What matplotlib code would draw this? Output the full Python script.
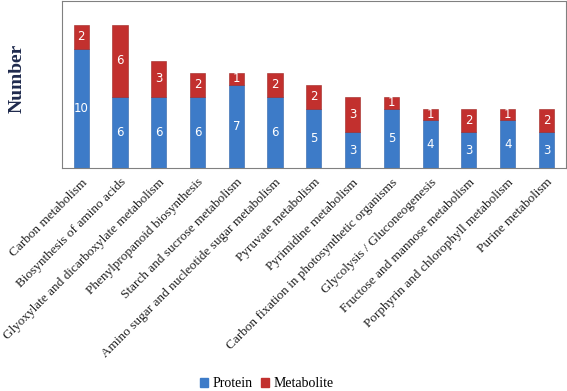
import numpy as np
import matplotlib
matplotlib.use("Agg")
import matplotlib.pyplot as plt
from matplotlib.patches import Patch

categories = [
    "Carbon metabolism",
    "Biosynthesis of amino acids",
    "Glyoxylate and dicarboxylate metabolism",
    "Phenylpropanoid biosynthesis",
    "Starch and sucrose metabolism",
    "Amino sugar and nucleotide sugar metabolism",
    "Pyruvate metabolism",
    "Pyrimidine metabolism",
    "Carbon fixation in photosynthetic organisms",
    "Glycolysis / Gluconeogenesis",
    "Fructose and mannose metabolism",
    "Porphyrin and chlorophyll metabolism",
    "Purine metabolism",
]
protein = [10, 6, 6, 6, 7, 6, 5, 3, 5, 4, 3, 4, 3]
metabolite = [2, 6, 3, 2, 1, 2, 2, 3, 1, 1, 2, 1, 2]

blue = "#3D7BC8"
red = "#C2302E"
serif = "Liberation Serif"

fig = plt.figure(figsize=(5.67, 3.91), dpi=100)
ax = fig.add_axes([0.109, 0.570, 0.889, 0.427])

x = np.arange(len(categories))
w = 0.39
ax.bar(x, protein, w, color=blue, edgecolor="#2F63A8", linewidth=0.4)
ax.bar(x, metabolite, w, bottom=protein, color=red, edgecolor="#9E2422", linewidth=0.4)

for i in range(len(categories)):
    ax.text(x[i], protein[i] / 2, str(protein[i]), ha="center", va="center",
            color="white", fontsize=8.5)
    ax.text(x[i], protein[i] + metabolite[i] / 2, str(metabolite[i]), ha="center",
            va="center", color="white", fontsize=8.5)

ax.set_xlim(-0.5, len(categories) - 0.5)
ax.set_ylim(0, 14)
ax.set_yticks([])
ax.set_xticks(x)
ax.set_xticklabels(categories, rotation=45, ha="right", rotation_mode="anchor",
                   family=serif, fontsize=9.5, color="#222222")
ax.tick_params(axis="x", length=0, pad=6)
for s in ax.spines.values():
    s.set_color("#808080")
    s.set_linewidth(0.8)

ax.set_ylabel("Number", family=serif, fontweight="bold", fontsize=14,
              color="#1F2A4D")
ax.yaxis.set_label_coords(-0.072, 0.54)

handles = [Patch(color=blue, label="Protein"), Patch(color=red, label="Metabolite")]
fig.legend(handles=handles, loc="lower center", bbox_to_anchor=(0.47, -0.03), ncol=2,
           frameon=False, prop={"family": serif, "size": 10},
           handlelength=0.6, handleheight=0.6, handletextpad=0.3, columnspacing=0.6)

fig.savefig("out.png", dpi=100)
